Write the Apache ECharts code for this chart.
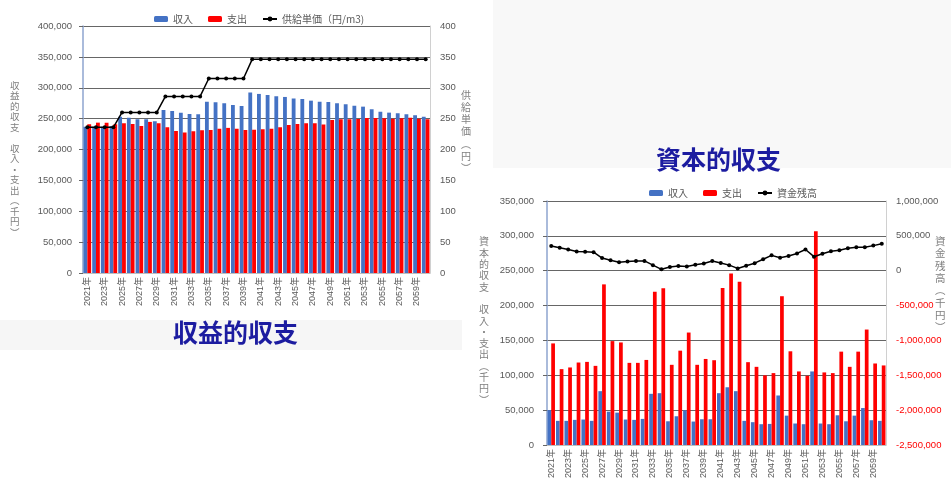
<!DOCTYPE html>
<html>
<head>
<meta charset="utf-8">
<script src="https://cdn.jsdelivr.net/npm/echarts@6/dist/echarts.min.js"></script>
<style>
  html, body { margin: 0; padding: 0; background: #ffffff; }
  #chart { width: 951px; height: 481px; }
</style>
</head>
<body>
<div id="chart"></div>
<script>
// 年度（2021年〜2060年）
const years = [
  '2021年','2022年','2023年','2024年','2025年','2026年','2027年','2028年','2029年','2030年',
  '2031年','2032年','2033年','2034年','2035年','2036年','2037年','2038年','2039年','2040年',
  '2041年','2042年','2043年','2044年','2045年','2046年','2047年','2048年','2049年','2050年',
  '2051年','2052年','2053年','2054年','2055年','2056年','2057年','2058年','2059年','2060年'
];

// 収益的収支（千円）
const revIncome = [
  237000, 237000, 237000, 238000, 253000, 251600, 249000, 249000, 245800, 264000,
  262400, 259700, 257600, 257000, 277500, 276500, 274900, 272100, 270500, 292400,
  290000, 288300, 286200, 285100, 282400, 281800, 279100, 277500, 277000, 274900,
  273300, 271000, 269400, 265200, 261300, 259700, 258700, 257100, 255500, 253200
];
const revExpense = [
  241000, 243500, 243500, 241000, 242500, 241400, 238200, 244700, 242500, 236000,
  230000, 227400, 229600, 231200, 231700, 233800, 235000, 233800, 231700, 232000,
  232800, 233800, 236000, 239800, 241400, 242500, 242500, 240300, 247900, 249000,
  249000, 249500, 251100, 251100, 250600, 250000, 250600, 251600, 250000, 249000
];
// 供給単価（円/m3）
const unitPrice = [
  236, 236, 236, 236, 260, 260, 260, 260, 260, 286,
  286, 286, 286, 286, 315, 315, 315, 315, 315, 346,
  346, 346, 346, 346, 346, 346, 346, 346, 346, 346,
  346, 346, 346, 346, 346, 346, 346, 346, 346, 346
];

// 資本的収支（千円）
const capIncome = [
  50000, 34600, 34600, 36000, 36500, 34600, 77200, 47800, 46400, 36500,
  36000, 37400, 73400, 74300, 34000, 41200, 49700, 33600, 36900, 36900,
  74300, 82800, 77200, 34600, 32700, 29800, 30200, 71000, 42100, 30800,
  29800, 105500, 30800, 29800, 42600, 34000, 42100, 53000, 35500, 34600
];
const capExpense = [
  145700, 108800, 111200, 118300, 119200, 113500, 230400, 149000, 147100, 117800,
  117800, 122000, 219900, 224700, 115000, 135300, 161300, 115000, 123400, 121600,
  225200, 246000, 234100, 118800, 112100, 99900, 103100, 213400, 134400, 105500,
  99300, 306500, 104100, 103100, 133900, 112100, 133900, 165600, 116900, 114100
];
// 資金残高（千円）
const fundBalance = [
  355000, 328000, 304000, 276000, 272000, 266000, 182000, 150000, 122000, 131000,
  140000, 140000, 80000, 20000, 52000, 66000, 61000, 84000, 103000, 138000,
  112000, 80000, 33000, 70000, 108000, 164000, 220000, 187000, 210000, 248000,
  304000, 201000, 243000, 280000, 294000, 322000, 336000, 336000, 360000, 388000
];

const FONT = "'Liberation Sans', 'Noto Sans CJK JP', sans-serif";
const JP = "'Noto Sans CJK JP', sans-serif";
const GREY = '#595959';
const GRID = '#666666';
const BLUE = '#4472C4';
const RED = '#FF0000';
const fmt = v => Number(v).toLocaleString('en-US');

// 縦書きの軸タイトル
function vText(x, y, chars, size, lh) {
  return {
    type: 'text', left: x, top: y, z: 10,
    style: {
      text: chars.join('\n'), font: size + 'px ' + JP, fill: '#7f7f7f',
      lineHeight: lh, textAlign: 'center'
    }
  };
}

function catAxis(grid) {
  return {
    type: 'category', gridIndex: grid, data: years,
    axisLine: { lineStyle: { color: '#bfbfbf' } },
    axisTick: { show: false },
    axisLabel: { interval: 1, rotate: 90, fontSize: 9, color: GREY, margin: 4, fontFamily: FONT }
  };
}

const chart = echarts.init(document.getElementById('chart'), null, { renderer: 'canvas' });

chart.setOption({
  animation: false,
  backgroundColor: '#ffffff',
  textStyle: { fontFamily: FONT },
  graphic: [
    { type: 'rect', shape: { x: 493, y: 0, width: 458, height: 168 }, style: { fill: '#f8f8f8' }, z: -10 },
    { type: 'rect', shape: { x: 0, y: 320, width: 462, height: 30 }, style: { fill: '#f6f6f6' }, z: -10 },
    {
      type: 'text', left: 173, top: 320, z: 10,
      style: { text: '収益的収支', font: 'bold 25px ' + JP, fill: '#1c1ca0' }
    },
    {
      type: 'text', left: 656, top: 147, z: 10,
      style: { text: '資本的収支', font: 'bold 25px ' + JP, fill: '#1c1ca0' }
    },
    vText(10, 80, ['収','益','的','収','支','　','収','入','・','支','出','︵','千','円','︶'], 9.5, 10.5),
    vText(461, 89, ['供','給','単','価','︵','円','︶'], 10, 12.2),
    vText(479, 236, ['資','本','的','収','支','　','収','入','・','支','出','︵','千','円','︶'], 10, 11.3),
    vText(935, 235, ['資','金','残','高','︵','千','円','︶'], 10.5, 12.3)
  ],
  legend: [
    {
      left: 149, top: 9, itemGap: 15, itemWidth: 14, itemHeight: 6,
      textStyle: { color: GREY, fontSize: 10, fontFamily: JP },
      data: ['収入', '支出', '供給単価（円/m3)']
    },
    {
      left: 644, top: 183, itemGap: 15, itemWidth: 14, itemHeight: 6,
      textStyle: { color: GREY, fontSize: 10, fontFamily: JP },
      data: ['収入', '支出', '資金残高']
    }
  ],
  grid: [
    { left: 83, top: 26, width: 347, height: 247, containLabel: false },
    { left: 547, top: 201, width: 339, height: 247, containLabel: false }
  ],
  xAxis: [catAxis(0), catAxis(1)],
  yAxis: [
    {
      type: 'value', gridIndex: 0, min: 0, max: 400000, interval: 50000, position: 'left',
      axisLine: { show: true, lineStyle: { color: '#8ea5cf', width: 1.5 } },
      axisTick: { show: true, length: 4, lineStyle: { color: GRID } },
      splitLine: { lineStyle: { color: GRID, width: 1 } },
      axisLabel: { formatter: fmt, fontSize: 9.5, color: GREY, margin: 11 }
    },
    {
      type: 'value', gridIndex: 0, min: 0, max: 400, interval: 50, position: 'right',
      axisLine: { show: true, lineStyle: { color: '#d0d0d0' } },
      axisTick: { show: false },
      splitLine: { show: false },
      axisLabel: { fontSize: 9.5, color: GREY, margin: 10 }
    },
    {
      type: 'value', gridIndex: 1, min: 0, max: 350000, interval: 50000, position: 'left',
      axisLine: { show: true, lineStyle: { color: '#8ea5cf', width: 1.5 } },
      axisTick: { show: true, length: 4, lineStyle: { color: GRID } },
      splitLine: { lineStyle: { color: GRID, width: 1 } },
      axisLabel: { formatter: fmt, fontSize: 9.5, color: GREY, margin: 13 }
    },
    {
      type: 'value', gridIndex: 1, min: -2500000, max: 1000000, interval: 500000, position: 'right',
      axisLine: { show: true, lineStyle: { color: '#d0d0d0' } },
      axisTick: { show: false },
      splitLine: { show: false },
      axisLabel: {
        formatter: fmt, fontSize: 9.5, margin: 10,
        color: v => (Number(v) < 0 ? RED : GREY)
      }
    }
  ],
  series: [
    {
      name: '収入', type: 'bar', xAxisIndex: 0, yAxisIndex: 0, data: revIncome,
      itemStyle: { color: BLUE }, barGap: '0%', barCategoryGap: '12%'
    },
    {
      name: '支出', type: 'bar', xAxisIndex: 0, yAxisIndex: 0, data: revExpense,
      itemStyle: { color: RED }, barGap: '0%', barCategoryGap: '12%'
    },
    {
      name: '供給単価（円/m3)', type: 'line', xAxisIndex: 0, yAxisIndex: 1, data: unitPrice,
      symbol: 'circle', symbolSize: 4, z: 5,
      lineStyle: { color: '#000000', width: 1.5 }, itemStyle: { color: '#000000' }
    },
    {
      name: '収入', type: 'bar', xAxisIndex: 1, yAxisIndex: 2, data: capIncome,
      itemStyle: { color: BLUE }, barGap: '0%', barCategoryGap: '12%'
    },
    {
      name: '支出', type: 'bar', xAxisIndex: 1, yAxisIndex: 2, data: capExpense,
      itemStyle: { color: RED }, barGap: '0%', barCategoryGap: '12%'
    },
    {
      name: '資金残高', type: 'line', xAxisIndex: 1, yAxisIndex: 3, data: fundBalance,
      symbol: 'circle', symbolSize: 4, z: 5,
      lineStyle: { color: '#000000', width: 1.5 }, itemStyle: { color: '#000000' }
    }
  ]
});
</script>
</body>
</html>
